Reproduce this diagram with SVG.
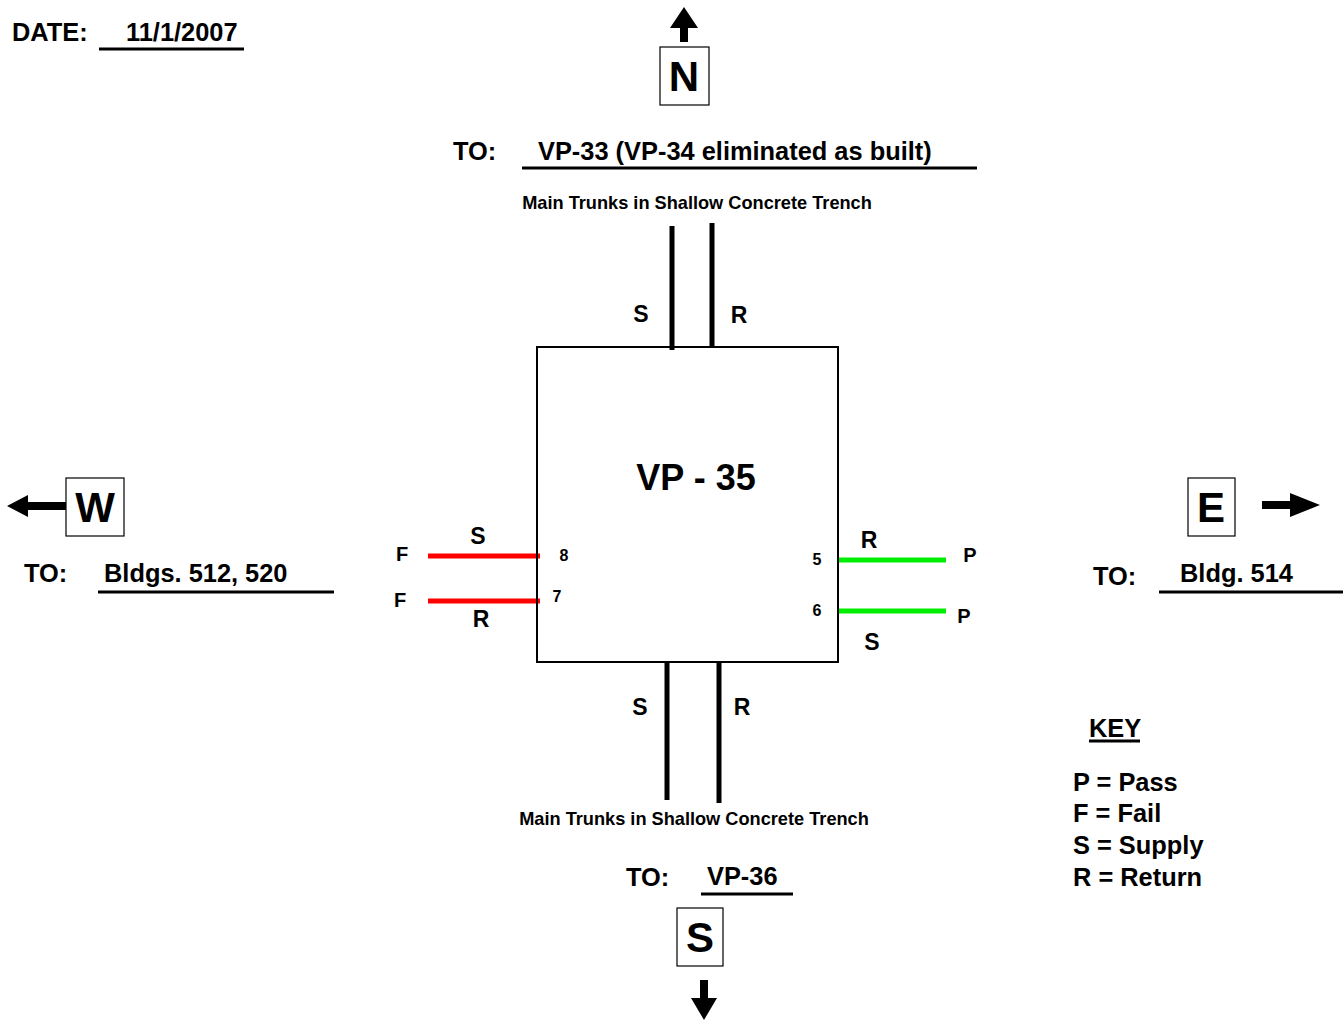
<svg xmlns="http://www.w3.org/2000/svg" width="1344" height="1022" viewBox="0 0 1344 1022">
<style>
text{font-family:"Liberation Sans",Arial,sans-serif;font-weight:bold;fill:#000}
.t22{font-size:25.4px}
.t24{font-size:25.4px}
.lb{font-size:23px}
.t16{font-size:16px}
.tm{font-size:18.2px}
.t20{font-size:20px}
.ul{stroke:#000;stroke-width:3;fill:none}
.trunk{stroke:#000;stroke-width:5;fill:none}
.red{stroke:#ff0000;stroke-width:5;fill:none}
.grn{stroke:#00ee00;stroke-width:5;fill:none}
.cbox{fill:#fff;stroke:#000;stroke-width:1.2}
.big{font-size:42px;text-anchor:middle}
</style>
<rect width="1344" height="1022" fill="#fff"/>
<g id="header">
<text x="12" y="41" class="t22">DATE:</text>
<text x="126" y="41" class="t22">11/1/2007</text>
<line x1="99" y1="49" x2="244" y2="49" class="ul"/>
</g>
<g id="north">
<polygon points="684,7 670,28 680,28 680,42 688,42 688,28 698,28" fill="#000"/>
<rect x="660" y="47" width="49" height="58" class="cbox"/>
<text x="684" y="91" class="big">N</text>
<text x="453" y="160" class="t22">TO:</text>
<text x="538" y="160" class="t22">VP-33 (VP-34 eliminated as built)</text>
<line x1="522" y1="168" x2="977" y2="168" class="ul"/>
<text x="697" y="209" class="tm" text-anchor="middle">Main Trunks in Shallow Concrete Trench</text>
</g>
<g id="connectors">
<line x1="672" y1="226" x2="672" y2="350" class="trunk"/>
<line x1="712" y1="223" x2="712" y2="347" class="trunk"/>
<line x1="667" y1="662" x2="667" y2="800" class="trunk"/>
<line x1="719" y1="662" x2="719" y2="803" class="trunk"/>
<line x1="428" y1="556" x2="540" y2="556" class="red"/>
<line x1="428" y1="601" x2="540" y2="601" class="red"/>
<line x1="838" y1="560" x2="946" y2="560" class="grn"/>
<line x1="838" y1="611" x2="946" y2="611" class="grn"/>
</g>
<g id="vp35">
<rect x="537" y="347" width="301" height="315" fill="none" stroke="#000" stroke-width="2"/>
<text x="696" y="490" font-size="36" text-anchor="middle">VP - 35</text>
<text x="641" y="322" class="lb" text-anchor="middle">S</text>
<text x="739" y="323" class="lb" text-anchor="middle">R</text>
<text x="640" y="715" class="lb" text-anchor="middle">S</text>
<text x="742" y="715" class="lb" text-anchor="middle">R</text>
<text x="402" y="561" class="t20" text-anchor="middle">F</text>
<text x="400" y="607" class="t20" text-anchor="middle">F</text>
<text x="478" y="544" class="lb" text-anchor="middle">S</text>
<text x="481" y="627" class="lb" text-anchor="middle">R</text>
<text x="564" y="561" class="t16" text-anchor="middle">8</text>
<text x="557" y="602" class="t16" text-anchor="middle">7</text>
<text x="817" y="565" class="t16" text-anchor="middle">5</text>
<text x="817" y="616" class="t16" text-anchor="middle">6</text>
<text x="869" y="548" class="lb" text-anchor="middle">R</text>
<text x="970" y="562" class="t20" text-anchor="middle">P</text>
<text x="964" y="623" class="t20" text-anchor="middle">P</text>
<text x="872" y="650" class="lb" text-anchor="middle">S</text>
</g>
<g id="west">
<polygon points="7,506 28,495 28,502 66,502 66,510 28,510 28,517" fill="#000"/>
<rect x="66" y="478" width="58" height="58" class="cbox"/>
<text x="95" y="522" class="big">W</text>
<text x="24" y="582" class="t22">TO:</text>
<text x="104" y="582" class="t22">Bldgs. 512, 520</text>
<line x1="98" y1="592" x2="334" y2="592" class="ul"/>
</g>
<g id="east">
<rect x="1188" y="478" width="47" height="58" class="cbox"/>
<text x="1211" y="522" class="big">E</text>
<polygon points="1262,501 1290,501 1290,493 1320,505 1290,517 1290,509 1262,509" fill="#000"/>
<text x="1093" y="585" class="t22">TO:</text>
<text x="1180" y="582" class="t22">Bldg. 514</text>
<line x1="1159" y1="592" x2="1343" y2="592" class="ul"/>
</g>
<g id="south">
<text x="694" y="825" class="tm" text-anchor="middle">Main Trunks in Shallow Concrete Trench</text>
<text x="626" y="886" class="t22">TO:</text>
<text x="707" y="885" class="t22">VP-36</text>
<line x1="701" y1="894" x2="793" y2="894" class="ul"/>
<rect x="677" y="908" width="46" height="58" class="cbox"/>
<text x="700" y="952" class="big">S</text>
<polygon points="700,980 708,980 708,998 717,998 704,1020 691,998 700,998" fill="#000"/>
</g>
<g id="key">
<text x="1089" y="737" class="t22">KEY</text>
<line x1="1089" y1="741" x2="1140" y2="741" class="ul" stroke-width="2.5"/>
<text x="1073" y="791" class="t24">P = Pass</text>
<text x="1073" y="822" class="t24">F = Fail</text>
<text x="1073" y="854" class="t24">S = Supply</text>
<text x="1073" y="886" class="t24">R = Return</text>
</g>
</svg>
